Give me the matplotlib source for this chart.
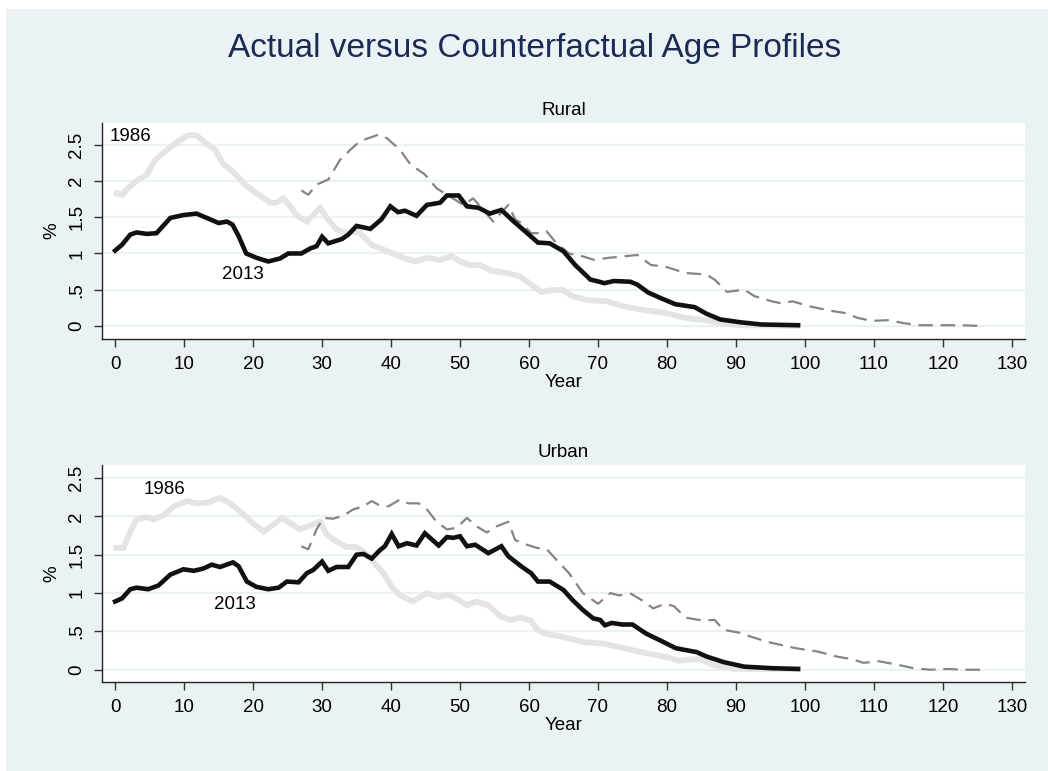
import matplotlib
matplotlib.use("Agg")
import matplotlib.pyplot as plt
from matplotlib.patches import Rectangle

plt.rcParams['font.family'] = ['Liberation Sans', 'DejaVu Sans']

# ---------------- data ----------------
rural_age_2013 = [0, 1, 2.2, 3.1, 4.6, 6, 8, 9.9, 11.8, 13.3, 15, 16.2, 17, 17.9, 19, 20.5, 22.2, 23.9, 25.1, 27,
                  28.3, 29.2, 30, 30.9, 32.9, 33.8, 35, 37, 38.6, 39.9, 41, 42, 43.7, 45.2, 47.1, 48.1, 49.8, 51,
                  52.7, 54.3, 56, 57.8, 59.5, 61.3, 63, 65, 66.7, 68.9, 70.2, 70.9, 72.3, 74.7, 75.7, 77.3, 79.2,
                  81.2, 84, 85.7, 87.7, 90.7, 93.7, 99]
rural_val_2013 = [1.04, 1.12, 1.26, 1.29, 1.27, 1.28, 1.49, 1.53, 1.55, 1.49, 1.42, 1.44, 1.40, 1.24, 1.0, 0.94,
                  0.89, 0.93, 1.0, 1.0, 1.07, 1.1, 1.23, 1.14, 1.2, 1.26, 1.38, 1.34, 1.47, 1.65, 1.57, 1.59, 1.52,
                  1.67, 1.70, 1.80, 1.80, 1.65, 1.63, 1.55, 1.60, 1.44, 1.30, 1.15, 1.14, 1.03, 0.84, 0.64, 0.61,
                  0.59, 0.62, 0.61, 0.57, 0.46, 0.38, 0.30, 0.26, 0.17, 0.09, 0.05, 0.02, 0.01]

rural_age_1986 = [0.2, 1, 2.2, 3.1, 4.6, 5.8, 7.5, 9.2, 10.6, 11.8, 12.8, 14.5, 15.7, 17.1, 18.8, 20.5, 22.5, 23.4,
                  24.4, 25.4, 26.3, 27.8, 28.7, 29.7, 30.7, 32.1, 33.6, 35.3, 37.2, 38.9, 40.3, 41.8, 43.5, 45.2,
                  47.1, 48.8, 50, 51.4, 52.9, 54.6, 56.8, 58.8, 60.3, 61.8, 63, 64.8, 66.3, 68.3, 71.3, 73.7, 76.7,
                  79.7, 82.7, 85.7, 87.7, 90.7, 99]
rural_val_1986 = [1.83, 1.81, 1.93, 2.0, 2.09, 2.29, 2.43, 2.55, 2.63, 2.63, 2.55, 2.43, 2.23, 2.13, 1.95, 1.83,
                  1.70, 1.70, 1.76, 1.65, 1.53, 1.44, 1.53, 1.63, 1.49, 1.33, 1.28, 1.30, 1.12, 1.05, 1.0, 0.94,
                  0.89, 0.94, 0.91, 0.96, 0.89, 0.84, 0.84, 0.76, 0.73, 0.68, 0.57, 0.47, 0.49, 0.50, 0.41, 0.36,
                  0.34, 0.27, 0.22, 0.18, 0.11, 0.08, 0.04, 0.01, 0.0]

rural_age_cf = [27, 28, 29.2, 30.9, 32.6, 34.1, 35.5, 38.2, 39.4, 41.3, 42.8, 44.9, 46.6, 48.1, 50.5, 51.9, 53.4,
                54.8, 57, 58, 59.2, 60.3, 61.4, 62.5, 64, 65.8, 67.8, 69.5, 71.5, 73.8, 75.7, 77.7, 79.7, 82.7,
                85.7, 86.9, 88.7, 91.2, 92.7, 95.2, 96.7, 98.2, 100.7, 103.7, 105.7, 107.7, 109.7, 112.2, 114.2,
                116.7, 119.7, 122.7, 125.4]
rural_val_cf = [1.87, 1.81, 1.95, 2.02, 2.29, 2.43, 2.55, 2.64, 2.59, 2.43, 2.23, 2.09, 1.90, 1.81, 1.67, 1.76,
                1.60, 1.44, 1.67, 1.47, 1.40, 1.28, 1.28, 1.31, 1.14, 1.0, 0.96, 0.91, 0.94, 0.96, 0.98, 0.84, 0.82,
                0.73, 0.71, 0.64, 0.47, 0.50, 0.41, 0.34, 0.31, 0.34, 0.27, 0.21, 0.18, 0.11, 0.07, 0.08, 0.04,
                0.01, 0.01, 0.01, 0.0]

urban_age_2013 = [0, 1, 2.2, 3.1, 4.8, 6.3, 8, 9.9, 11.4, 12.8, 14, 15.2, 17.1, 17.9, 19.1, 20.5, 22.2, 23.7, 24.9,
                  26.6, 27.8, 28.7, 30, 30.9, 32.1, 33.8, 35, 36, 37.2, 38.4, 39.1, 40.1, 41.1, 42.3, 43.7, 44.9,
                  46.9, 48.1, 49, 50, 51, 52.2, 54.1, 56, 57, 59, 60.3, 61.3, 63, 65, 66.3, 67.8, 69.3, 70.3, 71,
                  72, 73.5, 75, 77, 79.3, 81.3, 84.3, 85.8, 88.2, 91.2, 95.2, 99]
urban_val_2013 = [0.89, 0.93, 1.05, 1.07, 1.05, 1.10, 1.24, 1.31, 1.29, 1.32, 1.37, 1.34, 1.40, 1.35, 1.15, 1.08,
                  1.05, 1.07, 1.15, 1.14, 1.26, 1.30, 1.41, 1.29, 1.34, 1.34, 1.50, 1.51, 1.45, 1.56, 1.61, 1.77,
                  1.61, 1.65, 1.62, 1.78, 1.62, 1.73, 1.72, 1.74, 1.61, 1.63, 1.52, 1.61, 1.48, 1.34, 1.26, 1.15,
                  1.15, 1.04, 0.91, 0.78, 0.67, 0.65, 0.58, 0.61, 0.59, 0.59, 0.47, 0.37, 0.28, 0.23, 0.17, 0.10,
                  0.04, 0.02, 0.01]

urban_age_1986 = [0.2, 1.2, 2.2, 3.1, 4.6, 5.6, 7, 8.5, 10.4, 11.8, 13.3, 15.2, 16.7, 18.4, 20, 21.5, 22.9, 24.2,
                  25.4, 26.8, 28.3, 29.7, 30.7, 32.1, 33.6, 35, 36, 37.4, 38.9, 40.1, 41.3, 43.2, 45.2, 46.9, 48.3,
                  49.8, 51, 52.4, 54.1, 55.8, 57.2, 58.8, 60.3, 61.1, 62.3, 64.8, 67.8, 70.8, 73.8, 76.7, 79.7,
                  81.7, 84.7, 86.7, 89.7, 99]
urban_val_1986 = [1.59, 1.59, 1.80, 1.96, 1.99, 1.96, 2.01, 2.13, 2.20, 2.17, 2.18, 2.24, 2.17, 2.04, 1.91, 1.80,
                  1.89, 1.98, 1.91, 1.83, 1.88, 1.93, 1.76, 1.67, 1.60, 1.60, 1.54, 1.41, 1.26, 1.08, 0.97, 0.89,
                  1.0, 0.95, 0.98, 0.91, 0.84, 0.89, 0.84, 0.70, 0.65, 0.68, 0.64, 0.53, 0.47, 0.43, 0.36, 0.34,
                  0.28, 0.22, 0.17, 0.12, 0.14, 0.06, 0.01, 0.01]

urban_age_cf = [27, 28, 29.2, 30.2, 31.6, 33.1, 34.5, 36, 37.2, 38.2, 39.6, 41.3, 42.5, 44, 45.2, 46.6, 48.1, 49.5,
                51, 52.4, 53.9, 55.3, 57, 58, 59.7, 61.1, 62.6, 63.8, 65.8, 67.8, 70, 71.8, 73, 74.8, 76.3, 78,
                79.7, 81, 82.7, 85.2, 86.9, 88.2, 90.7, 92.2, 94.7, 97.2, 98.7, 101.7, 104.7, 106.7, 108.5, 110.7,
                113.2, 115.7, 118.2, 120.7, 123, 125.4]
urban_val_cf = [1.61, 1.57, 1.83, 1.98, 1.97, 2.01, 2.09, 2.13, 2.20, 2.15, 2.13, 2.22, 2.17, 2.17, 2.09, 1.93,
                1.83, 1.85, 1.98, 1.87, 1.79, 1.87, 1.93, 1.69, 1.63, 1.59, 1.57, 1.45, 1.26, 1.0, 0.86, 1.0, 0.97,
                0.99, 0.91, 0.80, 0.86, 0.83, 0.68, 0.64, 0.65, 0.52, 0.48, 0.43, 0.36, 0.31, 0.28, 0.24, 0.17,
                0.14, 0.09, 0.11, 0.07, 0.02, 0.0, 0.01, 0.0, 0.0]

x_ticks = list(range(0, 131, 10))
y_ticks = [0, 0.5, 1, 1.5, 2, 2.5]
y_tick_labels = ["0", ".5", "1", "1.5", "2", "2.5"]

panels = [
    dict(name="Rural", a13=rural_age_2013, v13=rural_val_2013, a86=rural_age_1986, v86=rural_val_1986,
         acf=rural_age_cf, vcf=rural_val_cf, lab86=(-0.8, 2.62, "left"), lab13=(18.5, 0.71, "center")),
    dict(name="Urban", a13=urban_age_2013, v13=urban_val_2013, a86=urban_age_1986, v86=urban_val_1986,
         acf=urban_age_cf, vcf=urban_val_cf, lab86=(7.2, 2.35, "center"), lab13=(17.4, 0.85, "center")),
]

# ---------------- styling ----------------
W, H = 1048, 771
BG = "#EAF2F3"
fig = plt.figure(figsize=(W / 100, H / 100), dpi=100, facecolor="white")
fig.patches.append(Rectangle((6 / W, -0.01), 1.02 - 6 / W, 1.01 - 9 / H, transform=fig.transFigure,
                             facecolor=BG, edgecolor="none", zorder=-10))

fig.text(535 / W, 1 - 48 / H, "Actual versus Counterfactual Age Profiles", ha="center", va="center",
         fontsize=24, color="#1C2B55")

axes_px = [(123, 339, (-0.18, 2.80)), (465, 682, (-0.16, 2.67))]
left_px, right_px = 102, 1025

for p, (top, bot, ylim) in zip(panels, axes_px):
    ax = fig.add_axes([left_px / W, 1 - bot / H, (right_px - left_px) / W, (bot - top) / H])
    ax.set_facecolor("white")
    ax.plot(p["a86"], p["v86"], color="#E4E4E4", lw=4.2, solid_joinstyle="miter", zorder=2)
    ax.plot(p["acf"], p["vcf"], color="#858585", lw=1.6, dashes=(6.5, 3.5), zorder=3)
    ax.plot(p["a13"], p["v13"], color="#111111", lw=3.3, solid_joinstyle="miter", zorder=4)
    ax.set_xlim(-1.9, 131.9)
    ax.set_ylim(*ylim)
    ax.set_xticks(x_ticks)
    ax.set_yticks(y_ticks)
    ax.set_yticklabels(y_tick_labels, rotation=90, va="center")
    ax.grid(axis="y", color=BG, lw=1.6, zorder=0)
    ax.set_axisbelow(True)
    for s in ("top", "right"):
        ax.spines[s].set_visible(False)
    for s in ("left", "bottom"):
        ax.spines[s].set_color("#222222")
        ax.spines[s].set_linewidth(1.0)
    ax.tick_params(axis="both", direction="out", length=6, width=1.0, color="#333333",
                   labelsize=13.5, pad=6)
    ax.set_xlabel("Year", fontsize=13.5, labelpad=1)
    ax.set_ylabel("%", fontsize=13.5, labelpad=6)
    ax.set_title(p["name"], fontsize=13.5, pad=6)
    x86, y86, ha86 = p["lab86"]
    ax.text(x86, y86, "1986", fontsize=13.5, ha=ha86, va="center", zorder=6)
    x13, y13, ha13 = p["lab13"]
    ax.text(x13, y13, "2013", fontsize=13.5, ha=ha13, va="center", zorder=6)

fig.savefig("out.png", dpi=100, facecolor="white")
